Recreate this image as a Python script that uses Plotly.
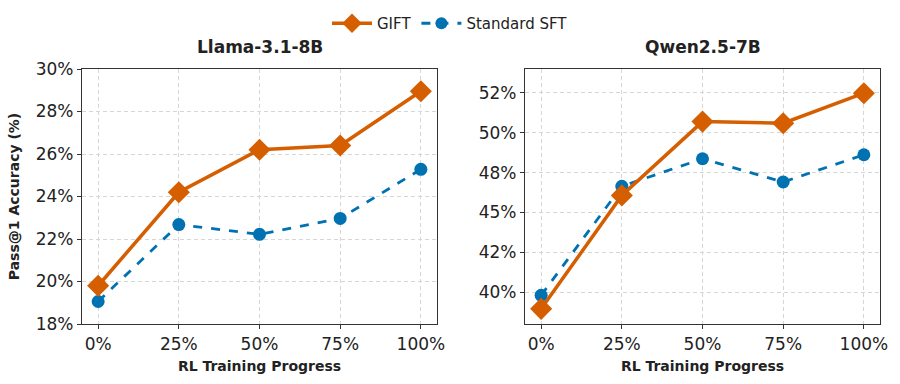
import plotly.graph_objects as go

progress = [0, 1, 2, 3, 4]
progress_labels = ["0%", "25%", "50%", "75%", "100%"]

llama_gift = [19.8, 24.2, 26.2, 26.4, 28.95]
llama_sft = [19.06, 22.68, 22.22, 22.97, 25.28]

qwen_gift = [38.95, 46.07, 50.7, 50.6, 52.48]
qwen_sft = [39.8, 46.64, 48.37, 46.91, 48.62]

llama_ticks = [18, 20, 22, 24, 26, 28, 30]
llama_tick_text = ["18%", "20%", "22%", "24%", "26%", "28%", "30%"]
qwen_ticks = [40, 42.5, 45, 47.5, 50, 52.5]
qwen_tick_text = ["40%", "42%", "45%", "48%", "50%", "52%"]

ORANGE = "#D55E00"
BLUE = "#0072B2"
FONT = "DejaVu Sans"

fig = go.Figure()

def add_pair(gift, sft, xa, ya):
    fig.add_trace(go.Scatter(
        x=progress, y=sft, mode="lines+markers", name="Standard SFT",
        line=dict(color=BLUE, width=2.8, dash="dash"),
        marker=dict(symbol="circle", size=13, color=BLUE),
        xaxis=xa, yaxis=ya, showlegend=False))
    fig.add_trace(go.Scatter(
        x=progress, y=gift, mode="lines+markers", name="GIFT",
        line=dict(color=ORANGE, width=3.5),
        marker=dict(symbol="diamond", size=17, color=ORANGE),
        xaxis=xa, yaxis=ya, showlegend=False))

add_pair(llama_gift, llama_sft, "x", "y")
add_pair(qwen_gift, qwen_sft, "x2", "y2")

# legend-only traces
fig.add_trace(go.Scatter(x=[None], y=[None], mode="lines+markers", name="GIFT",
                         line=dict(color=ORANGE, width=3.5),
                         marker=dict(symbol="diamond", size=15, color=ORANGE), legendrank=1))
fig.add_trace(go.Scatter(x=[None], y=[None], mode="lines+markers", name="Standard SFT",
                         line=dict(color=BLUE, width=2.8, dash="dash"),
                         marker=dict(symbol="circle", size=12, color=BLUE), legendrank=2))

axis_common = dict(
    showline=True, mirror=True, linecolor="#333333", linewidth=1.3,
    showgrid=True, gridcolor="#d6d6d6", griddash="4px,3px", gridwidth=1,
    ticks="outside", ticklen=4, tickcolor="#333333",
    tickfont=dict(family=FONT, size=17, color="#222222"),
    zeroline=False, automargin=False,
)

y0, y1 = 1 - 324 / 384, 1 - 69 / 384
fig.update_layout(
    width=900, height=384,
    margin=dict(l=0, r=0, t=0, b=0, autoexpand=False),
    paper_bgcolor="white", plot_bgcolor="white",
    font=dict(family=FONT, color="#222222"),
    xaxis=dict(domain=[82 / 900, 437 / 900], range=[-0.2, 4.2],
               tickvals=progress, ticktext=progress_labels,
               title=dict(text="<b>RL Training Progress</b>", font=dict(size=14, family=FONT), standoff=8),
               **axis_common),
    yaxis=dict(domain=[y0, y1], range=[18, 30], tickvals=llama_ticks, ticktext=llama_tick_text,
               title=dict(text="<b>Pass@1 Accuracy (%)</b>", font=dict(size=14, family=FONT), standoff=12),
               **axis_common),
    xaxis2=dict(domain=[525 / 900, 880 / 900], range=[-0.2, 4.2], anchor="y2",
                tickvals=progress, ticktext=progress_labels,
                title=dict(text="<b>RL Training Progress</b>", font=dict(size=14, family=FONT), standoff=8),
                **axis_common),
    yaxis2=dict(domain=[y0, y1], range=[38, 54], anchor="x2",
                tickvals=qwen_ticks, ticktext=qwen_tick_text, **axis_common),
    legend=dict(orientation="h", x=0.5, xanchor="center", y=1 - 7 / 384, yanchor="top",
                font=dict(family=FONT, size=15, color="#222222"),
                itemwidth=40, bgcolor="rgba(0,0,0,0)"),
    annotations=[
        dict(text="<b>Llama-3.1-8B</b>", x=(82 + 437) / 2 / 900, y=1 - 47 / 384,
             xref="paper", yref="paper", showarrow=False, xanchor="center",
             font=dict(family=FONT, size=17, color="#222222"), yanchor="middle"),
        dict(text="<b>Qwen2.5-7B</b>", x=(525 + 880) / 2 / 900, y=1 - 47 / 384,
             xref="paper", yref="paper", showarrow=False, xanchor="center",
             font=dict(family=FONT, size=17, color="#222222"), yanchor="middle"),
    ],
)

fig.write_html("out.html")
